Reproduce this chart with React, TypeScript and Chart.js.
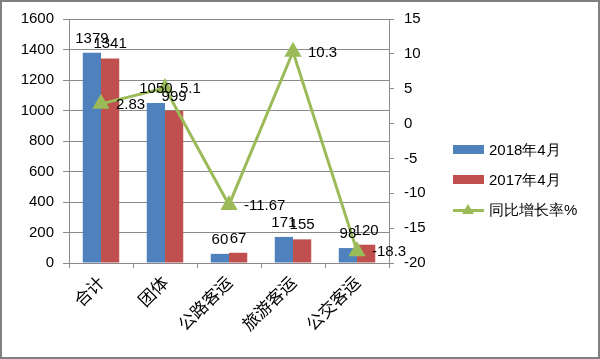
import React, { useEffect, useRef } from "react";
import { Chart, registerables } from "chart.js";

Chart.register(...registerables);

const categories = ["合计", "团体", "公路客运", "旅游客运", "公交客运"];
const series2018 = [1379, 1050, 60, 171, 98];
const series2017 = [1341, 999, 67, 155, 120];
const growthRate = [2.83, 5.1, -11.67, 10.3, -18.3];
const seriesNames = ["2018年4月", "2017年4月", "同比增长率%"];
const leftTicks = { min: 0, max: 1600, step: 200 };
const rightTicks = { min: -20, max: 15, step: 5 };

const BLUE = "#4F81BD";
const RED = "#C0504D";
const GREEN = "#9BBB59";
const GRID = "#8a8a8a";
const FONT = "'Liberation Sans', Arial, sans-serif";

const labelPlugin = {
  id: "valueLabels",
  afterDatasetsDraw(chart: any) {
    const ctx = chart.ctx;
    ctx.save();
    ctx.font = `15px ${FONT}`;
    ctx.fillStyle = "#000";
    chart.data.datasets.forEach((ds: any, di: number) => {
      const meta = chart.getDatasetMeta(di);
      meta.data.forEach((el: any, i: number) => {
        const v = ds.data[i];
        if (ds.type === "line") {
          ctx.textAlign = "left";
          ctx.textBaseline = "middle";
          ctx.fillText(String(v), el.x + 15, el.y + 1);
        } else {
          ctx.textAlign = "center";
          ctx.textBaseline = "alphabetic";
          ctx.fillText(String(v), el.x, el.y - 10);
        }
      });
    });
    ctx.restore();
  },
};

export default function App() {
  const ref = useRef<HTMLCanvasElement>(null);
  useEffect(() => {
    if (!ref.current) return;
    const chart = new Chart(ref.current, {
      type: "bar",
      data: {
        labels: categories,
        datasets: [
          {
            type: "line",
            label: seriesNames[2],
            data: growthRate,
            yAxisID: "y1",
            borderColor: GREEN,
            backgroundColor: GREEN,
            borderWidth: 3,
            pointStyle: "triangle",
            pointRadius: 7,
            pointBackgroundColor: GREEN,
            pointBorderColor: GREEN,
            tension: 0,
            order: 0,
          } as any,
          {
            type: "bar",
            label: seriesNames[0],
            data: series2018,
            yAxisID: "y",
            backgroundColor: BLUE,
            categoryPercentage: 0.57,
            barPercentage: 1,
            order: 1,
          },
          {
            type: "bar",
            label: seriesNames[1],
            data: series2017,
            yAxisID: "y",
            backgroundColor: RED,
            categoryPercentage: 0.57,
            barPercentage: 1,
            order: 1,
          },
        ],
      },
      options: {
        responsive: false,
        animation: false,
        events: [],
        layout: { padding: { left: 0, right: 171, top: 19, bottom: 0 } },
        plugins: { legend: { display: false }, tooltip: { enabled: false } },
        scales: {
          x: {
            offset: true,
            grid: {
              offset: true,
              drawOnChartArea: false,
              drawTicks: true,
              tickLength: 5,
              color: GRID,
            },
            border: { color: GRID, width: 1 },
            ticks: {
              minRotation: 45,
              maxRotation: 45,
              padding: 4,
              color: "#000",
              font: { family: "'Noto Sans CJK SC', sans-serif", size: 17 },
            },
            afterFit(scale: any) {
              scale.height = 96;
            },
          },
          y: {
            position: "left",
            min: leftTicks.min,
            max: leftTicks.max,
            ticks: {
              stepSize: leftTicks.step,
              padding: 9,
              color: "#000",
              font: { family: FONT, size: 15 },
              callback: (v: any) => String(v),
            },
            grid: { color: GRID, tickLength: 6 },
            border: { color: GRID },
            afterFit(scale: any) {
              scale.width = 69;
            },
          },
          y1: {
            position: "right",
            min: rightTicks.min,
            max: rightTicks.max,
            ticks: {
              stepSize: rightTicks.step,
              padding: 10,
              color: "#000",
              font: { family: FONT, size: 15 },
              callback: (v: any) => String(v),
            },
            grid: { drawOnChartArea: false, color: GRID, tickLength: 5 },
            border: { color: GRID },
            afterFit(scale: any) {
              scale.width = 40;
            },
          },
        },
      },
      plugins: [labelPlugin],
    });
    return () => chart.destroy();
  }, []);

  const legendText: React.CSSProperties = {
    fontFamily: FONT,
    fontSize: 15,
    color: "#000",
    position: "absolute",
    left: 489,
    lineHeight: "18px",
    whiteSpace: "nowrap",
  };

  return (
    <div style={{ position: "absolute", left: 0, top: 0, width: 600, height: 359, background: "#fff" }}>
      <canvas ref={ref} width={600} height={359} style={{ position: "absolute", left: 0, top: 0 }} />
      <div
        style={{
          position: "absolute",
          left: 0,
          top: 0,
          width: 600,
          height: 359,
          boxSizing: "border-box",
          border: "2px solid #808080",
          pointerEvents: "none",
        }}
      />
      <div style={{ position: "absolute", left: 453, top: 145, width: 31, height: 9, background: BLUE }} />
      <div style={{ ...legendText, top: 141 }}>{seriesNames[0]}</div>
      <div style={{ position: "absolute", left: 453, top: 175, width: 31, height: 9, background: RED }} />
      <div style={{ ...legendText, top: 171 }}>{seriesNames[1]}</div>
      <div style={{ position: "absolute", left: 453, top: 209, width: 31, height: 3, background: GREEN }} />
      <div
        style={{
          position: "absolute",
          left: 462,
          top: 204,
          width: 0,
          height: 0,
          borderLeft: "6px solid transparent",
          borderRight: "6px solid transparent",
          borderBottom: "10px solid " + GREEN,
        }}
      />
      <div style={{ ...legendText, top: 201 }}>{seriesNames[2]}</div>
    </div>
  );
}
